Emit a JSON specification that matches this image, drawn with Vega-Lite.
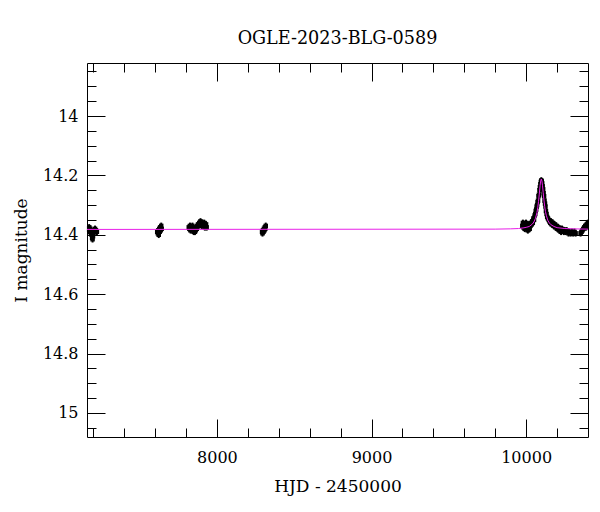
{
  "$schema": "https://vega.github.io/schema/vega-lite/v6.json",
  "width": 501,
  "height": 374,
  "autosize": {"type": "none"},
  "padding": {"left": 87, "top": 63, "right": 12, "bottom": 75},
  "background": "white",
  "config": {
    "view": {"stroke": "black", "strokeWidth": 1},
    "font": "DejaVu Serif"
  },
  "title": {"text": "OGLE-2023-BLG-0589", "font": "DejaVu Serif", "fontSize": 17.6, "fontWeight": "normal", "color": "black", "offset": 15, "anchor": "middle"},
  "datasets": {
    "obs": [
      {"t": 7166, "mag": 14.38, "err": 0.011}, {"t": 7170, "mag": 14.385, "err": 0.011}, {"t": 7174, "mag": 14.375, "err": 0.011}, {"t": 7178, "mag": 14.39, "err": 0.011},
      {"t": 7182, "mag": 14.38, "err": 0.011}, {"t": 7186, "mag": 14.395, "err": 0.011}, {"t": 7190, "mag": 14.4, "err": 0.011}, {"t": 7193, "mag": 14.41, "err": 0.011},
      {"t": 7196, "mag": 14.415, "err": 0.011}, {"t": 7199, "mag": 14.405, "err": 0.011}, {"t": 7202, "mag": 14.395, "err": 0.011}, {"t": 7206, "mag": 14.385, "err": 0.011},
      {"t": 7212, "mag": 14.38, "err": 0.011}, {"t": 7218, "mag": 14.385, "err": 0.011}, {"t": 7224, "mag": 14.39, "err": 0.011},
      {"t": 7614, "mag": 14.39, "err": 0.011}, {"t": 7618, "mag": 14.395, "err": 0.011}, {"t": 7621, "mag": 14.385, "err": 0.011}, {"t": 7624, "mag": 14.4, "err": 0.011},
      {"t": 7627, "mag": 14.38, "err": 0.011}, {"t": 7630, "mag": 14.39, "err": 0.011}, {"t": 7633, "mag": 14.375, "err": 0.011}, {"t": 7636, "mag": 14.385, "err": 0.011},
      {"t": 7640, "mag": 14.37, "err": 0.011}, {"t": 7643, "mag": 14.38, "err": 0.011},
      {"t": 7818, "mag": 14.375, "err": 0.011}, {"t": 7822, "mag": 14.38, "err": 0.011}, {"t": 7826, "mag": 14.37, "err": 0.011}, {"t": 7830, "mag": 14.385, "err": 0.011},
      {"t": 7834, "mag": 14.375, "err": 0.011}, {"t": 7838, "mag": 14.38, "err": 0.011}, {"t": 7842, "mag": 14.37, "err": 0.011}, {"t": 7846, "mag": 14.385, "err": 0.011},
      {"t": 7850, "mag": 14.39, "err": 0.011}, {"t": 7854, "mag": 14.38, "err": 0.011}, {"t": 7858, "mag": 14.39, "err": 0.011}, {"t": 7862, "mag": 14.385, "err": 0.011},
      {"t": 7866, "mag": 14.375, "err": 0.011}, {"t": 7870, "mag": 14.38, "err": 0.011}, {"t": 7874, "mag": 14.37, "err": 0.011}, {"t": 7878, "mag": 14.365, "err": 0.011},
      {"t": 7882, "mag": 14.37, "err": 0.011}, {"t": 7886, "mag": 14.36, "err": 0.011}, {"t": 7890, "mag": 14.365, "err": 0.011}, {"t": 7894, "mag": 14.355, "err": 0.011},
      {"t": 7898, "mag": 14.36, "err": 0.011}, {"t": 7902, "mag": 14.37, "err": 0.011}, {"t": 7906, "mag": 14.36, "err": 0.011}, {"t": 7910, "mag": 14.365, "err": 0.011},
      {"t": 7914, "mag": 14.37, "err": 0.011}, {"t": 7918, "mag": 14.36, "err": 0.011}, {"t": 7922, "mag": 14.375, "err": 0.011}, {"t": 7926, "mag": 14.37, "err": 0.011},
      {"t": 7930, "mag": 14.365, "err": 0.011}, {"t": 7934, "mag": 14.375, "err": 0.011},
      {"t": 8292, "mag": 14.39, "err": 0.011}, {"t": 8295, "mag": 14.395, "err": 0.011}, {"t": 8298, "mag": 14.385, "err": 0.011}, {"t": 8301, "mag": 14.39, "err": 0.011},
      {"t": 8304, "mag": 14.38, "err": 0.011}, {"t": 8307, "mag": 14.385, "err": 0.011}, {"t": 8310, "mag": 14.375, "err": 0.011}, {"t": 8313, "mag": 14.38, "err": 0.011},
      {"t": 8316, "mag": 14.37, "err": 0.011},
      {"t": 9975, "mag": 14.37, "err": 0.011}, {"t": 9979, "mag": 14.36, "err": 0.011}, {"t": 9983, "mag": 14.375, "err": 0.011}, {"t": 9987, "mag": 14.365, "err": 0.011},
      {"t": 9991, "mag": 14.38, "err": 0.011}, {"t": 9995, "mag": 14.37, "err": 0.011}, {"t": 9999, "mag": 14.36, "err": 0.011}, {"t": 10003, "mag": 14.38, "err": 0.011},
      {"t": 10007, "mag": 14.37, "err": 0.011}, {"t": 10011, "mag": 14.385, "err": 0.011}, {"t": 10015, "mag": 14.365, "err": 0.011}, {"t": 10019, "mag": 14.375, "err": 0.011},
      {"t": 10023, "mag": 14.38, "err": 0.011}, {"t": 10027, "mag": 14.37, "err": 0.011}, {"t": 10031, "mag": 14.36, "err": 0.011}, {"t": 10035, "mag": 14.365, "err": 0.011},
      {"t": 10039, "mag": 14.355, "err": 0.011}, {"t": 10043, "mag": 14.36, "err": 0.011}, {"t": 10047, "mag": 14.345, "err": 0.011}, {"t": 10051, "mag": 14.35, "err": 0.011},
      {"t": 10055, "mag": 14.335, "err": 0.011}, {"t": 10059, "mag": 14.33, "err": 0.011}, {"t": 10062, "mag": 14.32, "err": 0.011}, {"t": 10065, "mag": 14.315, "err": 0.011},
      {"t": 10068, "mag": 14.305, "err": 0.011}, {"t": 10071, "mag": 14.3, "err": 0.011}, {"t": 10074, "mag": 14.29, "err": 0.011}, {"t": 10077, "mag": 14.285, "err": 0.011},
      {"t": 10080, "mag": 14.27, "err": 0.011}, {"t": 10083, "mag": 14.265, "err": 0.011}, {"t": 10086, "mag": 14.25, "err": 0.011}, {"t": 10089, "mag": 14.24, "err": 0.011},
      {"t": 10092, "mag": 14.23, "err": 0.011}, {"t": 10095, "mag": 14.222, "err": 0.011}, {"t": 10098, "mag": 14.217, "err": 0.011}, {"t": 10101, "mag": 14.22, "err": 0.011},
      {"t": 10104, "mag": 14.227, "err": 0.011}, {"t": 10107, "mag": 14.237, "err": 0.011}, {"t": 10110, "mag": 14.247, "err": 0.011}, {"t": 10113, "mag": 14.26, "err": 0.011},
      {"t": 10116, "mag": 14.27, "err": 0.011}, {"t": 10119, "mag": 14.285, "err": 0.011}, {"t": 10122, "mag": 14.295, "err": 0.011}, {"t": 10125, "mag": 14.305, "err": 0.011},
      {"t": 10128, "mag": 14.32, "err": 0.011}, {"t": 10132, "mag": 14.33, "err": 0.011}, {"t": 10136, "mag": 14.34, "err": 0.011}, {"t": 10141, "mag": 14.345, "err": 0.011},
      {"t": 10146, "mag": 14.35, "err": 0.011}, {"t": 10151, "mag": 14.355, "err": 0.011}, {"t": 10156, "mag": 14.36, "err": 0.011}, {"t": 10161, "mag": 14.355, "err": 0.011},
      {"t": 10166, "mag": 14.365, "err": 0.011}, {"t": 10172, "mag": 14.36, "err": 0.011}, {"t": 10178, "mag": 14.37, "err": 0.011}, {"t": 10184, "mag": 14.365, "err": 0.011},
      {"t": 10190, "mag": 14.375, "err": 0.011}, {"t": 10196, "mag": 14.37, "err": 0.011}, {"t": 10202, "mag": 14.38, "err": 0.011}, {"t": 10208, "mag": 14.375, "err": 0.011},
      {"t": 10214, "mag": 14.385, "err": 0.011}, {"t": 10220, "mag": 14.38, "err": 0.011}, {"t": 10226, "mag": 14.39, "err": 0.011}, {"t": 10232, "mag": 14.38, "err": 0.011},
      {"t": 10238, "mag": 14.385, "err": 0.011}, {"t": 10244, "mag": 14.39, "err": 0.011}, {"t": 10250, "mag": 14.385, "err": 0.011}, {"t": 10256, "mag": 14.39, "err": 0.011},
      {"t": 10262, "mag": 14.385, "err": 0.011}, {"t": 10268, "mag": 14.39, "err": 0.011}, {"t": 10274, "mag": 14.395, "err": 0.011}, {"t": 10280, "mag": 14.39, "err": 0.011},
      {"t": 10288, "mag": 14.395, "err": 0.011}, {"t": 10296, "mag": 14.39, "err": 0.011}, {"t": 10304, "mag": 14.395, "err": 0.011}, {"t": 10312, "mag": 14.39, "err": 0.011},
      {"t": 10320, "mag": 14.395, "err": 0.011},
      {"t": 10352, "mag": 14.395, "err": 0.011}, {"t": 10358, "mag": 14.39, "err": 0.011}, {"t": 10364, "mag": 14.385, "err": 0.011}, {"t": 10370, "mag": 14.38, "err": 0.011},
      {"t": 10376, "mag": 14.375, "err": 0.011}, {"t": 10382, "mag": 14.37, "err": 0.011}, {"t": 10388, "mag": 14.375, "err": 0.011}, {"t": 10394, "mag": 14.365, "err": 0.011},
      {"t": 10399, "mag": 14.36, "err": 0.011}
    ],
    "model": [
      {"t": 7160, "mag": 14.382}, {"t": 9800, "mag": 14.381}, {"t": 9900, "mag": 14.38}, {"t": 9950, "mag": 14.379},
      {"t": 9980, "mag": 14.377}, {"t": 10000, "mag": 14.375}, {"t": 10020, "mag": 14.372}, {"t": 10040, "mag": 14.364},
      {"t": 10050, "mag": 14.357}, {"t": 10060, "mag": 14.345}, {"t": 10070, "mag": 14.325}, {"t": 10075, "mag": 14.309},
      {"t": 10080, "mag": 14.288}, {"t": 10085, "mag": 14.263}, {"t": 10090, "mag": 14.235}, {"t": 10094, "mag": 14.219},
      {"t": 10098, "mag": 14.212}, {"t": 10102, "mag": 14.219}, {"t": 10106, "mag": 14.235}, {"t": 10110, "mag": 14.257},
      {"t": 10115, "mag": 14.283}, {"t": 10120, "mag": 14.305}, {"t": 10125, "mag": 14.322}, {"t": 10130, "mag": 14.334},
      {"t": 10140, "mag": 14.351}, {"t": 10150, "mag": 14.36}, {"t": 10160, "mag": 14.366}, {"t": 10180, "mag": 14.372},
      {"t": 10200, "mag": 14.376}, {"t": 10250, "mag": 14.379}, {"t": 10300, "mag": 14.38}, {"t": 10400, "mag": 14.381}
    ]
  },
  "resolve": {"axis": {"x": "independent", "y": "independent"}},
  "layer": [
    {
      "data": {"name": "obs"},
      "mark": {"type": "errorbar", "ticks": false, "color": "black", "thickness": 2},
      "encoding": {
        "x": {"field": "t", "type": "quantitative", "scale": {"domain": [7160, 10400], "nice": false, "zero": false},
          "axis": {"orient": "bottom", "values": [7200, 7400, 7600, 7800, 8000, 8200, 8400, 8600, 8800, 9000, 9200, 9400, 9600, 9800, 10000, 10200],
            "format": "d", "labelExpr": "datum.value % 1000 === 0 ? datum.label : ''",
            "tickSize": {"condition": {"test": "datum.value % 1000 === 0", "value": -18}, "value": -9},
            "tickColor": "black", "tickWidth": 1, "domain": false, "grid": false, "labelOverlap": false, "labelFlush": false,
            "labelFont": "DejaVu Serif", "labelFontSize": 16, "labelColor": "black",
            "labelPadding": {"condition": {"test": "datum.value % 1000 === 0", "value": 30}, "value": 21},
            "title": "HJD - 2450000", "titleFont": "DejaVu Serif", "titleFontSize": 17, "titleFontWeight": "normal", "titleColor": "black", "titlePadding": 13}},
        "y": {"field": "mag", "type": "quantitative", "scale": {"domain": [15.081, 13.8215], "nice": false, "zero": false},
          "axis": {"orient": "left", "values": [13.85, 13.9, 13.95, 14, 14.05, 14.1, 14.15, 14.2, 14.25, 14.3, 14.35, 14.4, 14.45, 14.5, 14.55, 14.6, 14.65, 14.7, 14.75, 14.8, 14.85, 14.9, 14.95, 15, 15.05],
            "format": "~g", "labelExpr": "abs(datum.value*5 - round(datum.value*5)) < 0.0001 ? datum.label : ''",
            "tickSize": {"condition": {"test": "abs(datum.value*5 - round(datum.value*5)) < 0.0001", "value": -18}, "value": -9},
            "tickColor": "black", "tickWidth": 1, "domain": false, "grid": false, "labelOverlap": false, "labelFlush": false,
            "labelFont": "DejaVu Serif", "labelFontSize": 16, "labelColor": "black",
            "labelPadding": {"condition": {"test": "abs(datum.value*5 - round(datum.value*5)) < 0.0001", "value": 27}, "value": 18},
            "title": "I magnitude", "titleFont": "DejaVu Serif", "titleFontSize": 17, "titleFontWeight": "normal", "titleColor": "black", "titlePadding": 12}},
        "yError": {"field": "err"}
      }
    },
    {
      "data": {"name": "obs"},
      "mark": {"type": "square", "filled": true, "color": "black", "opacity": 1, "size": 20, "clip": true},
      "encoding": {
        "x": {"field": "t", "type": "quantitative",
          "axis": {"orient": "top", "values": [7200, 7400, 7600, 7800, 8000, 8200, 8400, 8600, 8800, 9000, 9200, 9400, 9600, 9800, 10000, 10200],
            "labels": false, "title": null, "domain": false, "grid": false, "tickColor": "black", "tickWidth": 1,
            "tickSize": {"condition": {"test": "datum.value % 1000 === 0", "value": -18}, "value": -9}}},
        "y": {"field": "mag", "type": "quantitative",
          "axis": {"orient": "right", "values": [13.85, 13.9, 13.95, 14, 14.05, 14.1, 14.15, 14.2, 14.25, 14.3, 14.35, 14.4, 14.45, 14.5, 14.55, 14.6, 14.65, 14.7, 14.75, 14.8, 14.85, 14.9, 14.95, 15, 15.05],
            "labels": false, "title": null, "domain": false, "grid": false, "tickColor": "black", "tickWidth": 1,
            "tickSize": {"condition": {"test": "abs(datum.value*5 - round(datum.value*5)) < 0.0001", "value": -18}, "value": -9}}}
      }
    },
    {
      "data": {"name": "model"},
      "mark": {"type": "line", "color": "#e820e8", "strokeWidth": 1, "clip": true},
      "encoding": {
        "x": {"field": "t", "type": "quantitative", "axis": null},
        "y": {"field": "mag", "type": "quantitative", "axis": null}
      }
    }
  ]
}
